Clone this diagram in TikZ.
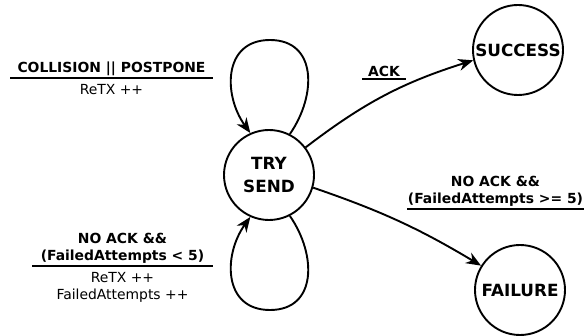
\documentclass[tikz,border=0pt]{standalone}
\usepackage{fontspec}
\setmainfont{DejaVu Sans}
\usetikzlibrary{arrows.meta}

\tikzset{
  state/.style={circle, draw, line width=1.9pt, minimum size=90pt, inner sep=0pt,
    align=center, font=\bfseries\fontsize{16.8}{23}\selectfont},
  trans/.style={-{Stealth[length=15pt, width=12pt]}, line width=1.9pt},
  cond/.style={font=\bfseries\fontsize{13.9}{17}\selectfont, align=center, inner ysep=2pt},
  act/.style={font=\fontsize{13.9}{17}\selectfont, align=center, inner ysep=6.5pt},
  rule/.style={line width=1.9pt}
}
% name, x, y of rule, half width of rule, condition, action
\newcommand*{\guard}[6]{%
\node[cond, anchor=south] (#1) at (#2, #3) {#5};
\draw[rule] ([xshift=-#4]#1.south) -- ([xshift=#4]#1.south);
\node[act, anchor=north] (#1act) at (#1.south) {#6};}

\begin{document}
\begin{tikzpicture}[x=1pt, y=1pt]

\useasboundingbox (0,0) rectangle (584,335);

\node[state] (try) at (269,160) {TRY\\SEND};
\node[state] (success) at (518,285) {SUCCESS};
\node[state] (failure) at (520,45) {FAILURE};

% self loops
\draw[trans] (try.63) .. controls (317,240) and (317,295) .. (270,295)
  .. controls (223,295) and (223,240) .. (try.114);
\draw[trans] (try.-63) .. controls (317,80) and (317,25) .. (270,25)
  .. controls (223,25) and (223,80) .. (try.-114);

\draw[trans] (try.37) to[bend left=10] (success.193);
\draw[trans] (try.-16) to[bend left=6] (failure.148);

\guard{collide}{111.5}{257}{101.5pt}{COLLISION || POSTPONE}{ReTX ++}
\guard{ack}{384}{256}{22pt}{ACK}{}
\guard{retry}{122.5}{69}{90.5pt}{NO ACK \&\&\\(FailedAttempts < 5)}{ReTX ++\\FailedAttempts ++}
\guard{giveup}{495.5}{126}{88.5pt}{NO ACK \&\&\\(FailedAttempts >= 5)}{}

\end{tikzpicture}
\end{document}
